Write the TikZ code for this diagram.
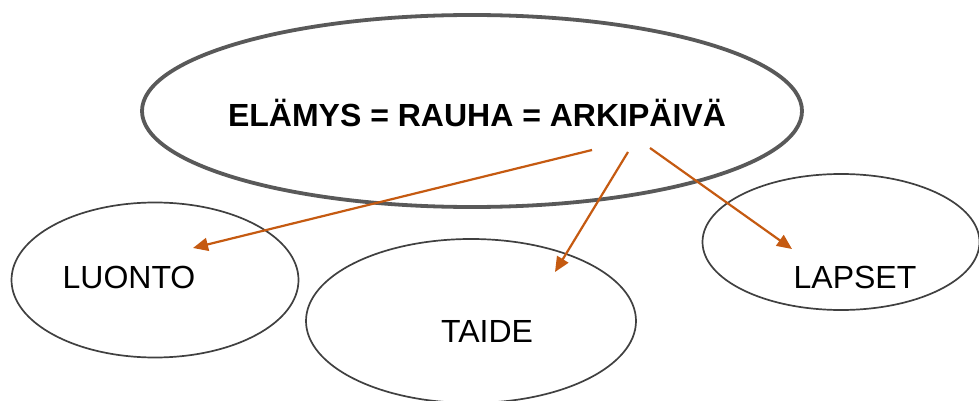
\documentclass[tikz,border=0pt]{standalone}
\usepackage{fontspec}
\setmainfont{Liberation Sans}
\usetikzlibrary{shapes.geometric,arrows.meta}
\definecolor{arrowc}{HTML}{C55A11}
\definecolor{bigline}{HTML}{595959}
\definecolor{smallline}{HTML}{404040}
\tikzset{
  bigell/.style={ellipse, draw=bigline, line width=3.8pt, inner sep=0pt},
  smallell/.style={ellipse, draw=smallline, line width=1.7pt, inner sep=0pt},
  lbl/.style={font=\fontsize{32}{38}\selectfont, inner sep=0pt},
  conn/.style={draw=arrowc, line width=2.2pt, -{Triangle[length=15pt,width=13pt]}}
}
\begin{document}
\begin{tikzpicture}[x=1pt,y=-1pt]
\useasboundingbox (0,0) rectangle (979,401);
\fill[white] (0,0) rectangle (979,401);
% ellipses
\node[bigell, minimum width=660, minimum height=192] (main) at (472,111) {};
\node[smallell, minimum width=287, minimum height=155] (luontoE) at (155,280) {};
\node[smallell, minimum width=330, minimum height=164] (taideE) at (471,321) {};
\node[smallell, minimum width=277, minimum height=136] (lapsetE) at (841,242) {};
% texts
\node[lbl, font=\fontsize{32}{38}\selectfont\bfseries] (title) at (477,113) {ELÄMYS = RAUHA = ARKIPÄIVÄ};
\node[lbl] (luonto) at (129,277) {LUONTO};
\node[lbl] (taide) at (487,331) {TAIDE};
\node[lbl] (lapset) at (855,277) {LAPSET};
% arrow end points
\coordinate (s1) at (592,150);
\coordinate (t1) at (193,248);
\coordinate (s2) at (628,152);
\coordinate (t2) at (555,272);
\coordinate (s3) at (650,148);
\coordinate (t3) at (792,249);
\draw[conn] (s1) -- (t1);
\draw[conn] (s2) -- (t2);
\draw[conn] (s3) -- (t3);
\end{tikzpicture}
\end{document}
